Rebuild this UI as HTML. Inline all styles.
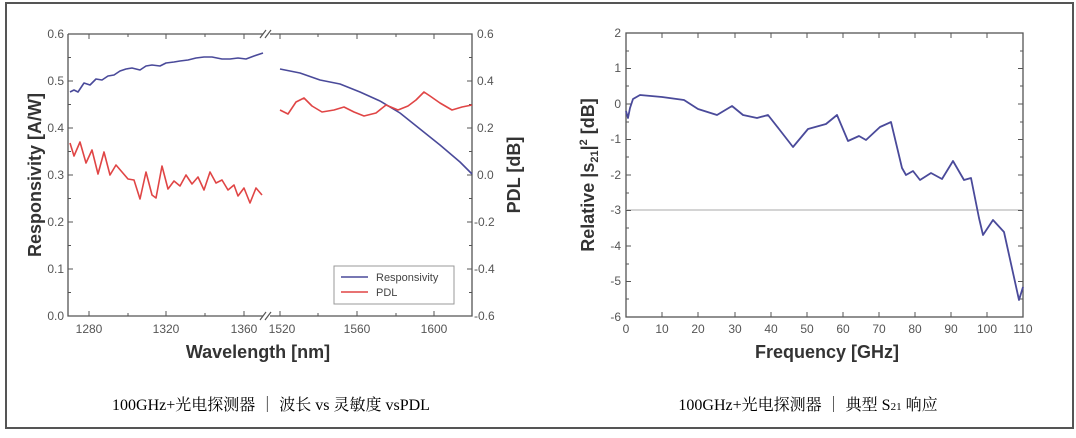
<!DOCTYPE html>
<html><head><meta charset="utf-8"><style>
body{margin:0;background:#fff;}
svg text{font-family:"Liberation Sans",sans-serif;}
</style></head><body>
<svg width="1076" height="433" viewBox="0 0 1076 433" xmlns="http://www.w3.org/2000/svg">
<rect x="0" y="0" width="1076" height="433" fill="#fff"/>
<rect x="6" y="3" width="1067" height="425" fill="none" stroke="#555" stroke-width="2"/>
<!-- LEFT CHART -->
<g stroke="#555" stroke-width="1.3" fill="none">
<path d="M68,34 V316 H263 M270,316 H472 V34 H270 M263,34 H68"/>
</g>
<g stroke="#555" stroke-width="1.2">
<line x1="260" y1="38" x2="266" y2="30"/><line x1="265" y1="38" x2="271" y2="30"/>
<line x1="260" y1="320" x2="266" y2="312"/><line x1="265" y1="320" x2="271" y2="312"/>
</g>
<g stroke="#555" stroke-width="1">
<path d="M68,34h5M68,57.5h3M68,81h5M68,104.5h3M68,128h5M68,151.5h3M68,175h5M68,198.5h3M68,222h5M68,245.5h3M68,269h5M68,292.5h3"/>
<path d="M472,34h-5M472,57.5h-3M472,81h-5M472,104.5h-3M472,128h-5M472,151.5h-3M472,175h-5M472,198.5h-3M472,222h-5M472,245.5h-3M472,269h-5M472,292.5h-3"/>
<path d="M89,316v-5M166,316v-5M244,316v-5M128,316v-3M205,316v-3M280,316v-5M357,316v-5M434,316v-5M318,316v-3M396,316v-3"/>
<path d="M89,34v5M166,34v5M244,34v5M128,34v3M205,34v3M280,34v5M357,34v5M434,34v5M318,34v3M396,34v3"/>
</g>
<g font-size="12" fill="#555" text-anchor="end">
<text x="64" y="38">0.6</text><text x="64" y="85">0.5</text><text x="64" y="132">0.4</text><text x="64" y="179">0.3</text><text x="64" y="226">0.2</text><text x="64" y="273">0.1</text><text x="64" y="320">0.0</text>
</g>
<g font-size="12" fill="#555">
<text x="477" y="38">0.6</text><text x="477" y="85">0.4</text><text x="477" y="132">0.2</text><text x="477" y="179">0.0</text><text x="474" y="226">-0.2</text><text x="474" y="273">-0.4</text><text x="474" y="320">-0.6</text>
</g>
<g font-size="12" fill="#555" text-anchor="middle">
<text x="89" y="333">1280</text><text x="166" y="333">1320</text><text x="244" y="333">1360</text><text x="282" y="333">1520</text><text x="357" y="333">1560</text><text x="434" y="333">1600</text>
</g>
<text x="258" y="358" font-size="18" font-weight="bold" fill="#333" text-anchor="middle">Wavelength  [nm]</text>
<text transform="translate(41,175) rotate(-90)" font-size="18" font-weight="bold" fill="#333" text-anchor="middle">Responsivity  [A/W]</text>
<text transform="translate(520,175) rotate(-90)" font-size="18" font-weight="bold" fill="#333" text-anchor="middle">PDL [dB]</text>
<g fill="none" stroke-width="1.6" stroke-linejoin="round">
<polyline stroke="#4a4a9a" points="70,92 74,90 78,92 84,83 90,85 96,79 102,80 108,76 114,75 120,71 126,69 132,68 140,70 146,66 152,65 160,66 166,63 174,62 180,61 188,60 196,58 204,57 212,57 222,59 230,59 238,58 246,59 254,56 263,53"/>
<polyline stroke="#4a4a9a" points="280,69 300,73 320,80 340,84 360,92 380,101 400,113 420,129 440,145 460,162 472,174"/>
<polyline stroke="#e04545" points="70,143 74,156 80,142 86,163 92,150 98,174 104,152 110,175 116,165 122,172 128,179 134,180 140,199 146,172 152,195 156,198 162,166 168,189 174,181 180,186 186,175 192,184 198,177 204,190 210,172 216,183 222,180 228,190 234,185 238,196 244,188 250,203 256,188 262,195"/>
<polyline stroke="#e04545" points="280,110 288,114 296,102 304,98 312,106 322,112 334,110 344,107 354,112 364,116 376,113 386,105 398,110 408,106 416,100 424,92 430,96 440,103 452,110 462,107 472,105"/>
</g>
<rect x="334" y="266" width="120" height="38" fill="#fff" stroke="#999" stroke-width="1"/>
<line x1="341" y1="277" x2="368" y2="277" stroke="#4a4a9a" stroke-width="1.6"/>
<line x1="341" y1="292" x2="368" y2="292" stroke="#e04545" stroke-width="1.6"/>
<text x="376" y="281" font-size="11" fill="#444">Responsivity</text>
<text x="376" y="296" font-size="11" fill="#444">PDL</text>
<text x="271" y="410" font-size="16" fill="#000" text-anchor="middle" style="font-family:'Liberation Serif','Noto Serif CJK SC',serif">100GHz+光电探测器 ｜ 波长 vs 灵敏度 vsPDL</text>
<!-- RIGHT CHART -->
<rect x="626" y="33" width="397" height="284" fill="none" stroke="#555" stroke-width="1.3"/>
<line x1="626" x2="1023" y1="210" y2="210" stroke="#aaa" stroke-width="1"/>
<g stroke="#555" stroke-width="1">
<path d="M626,33h5M626,68.5h5M626,104h5M626,139.5h5M626,175h5M626,210.5h5M626,246h5M626,281.5h5M626,51h3M626,86h3M626,122h3M626,157h3M626,193h3M626,228h3M626,264h3M626,299h3"/>
<path d="M1023,33h-5M1023,68.5h-5M1023,104h-5M1023,139.5h-5M1023,175h-5M1023,210.5h-5M1023,246h-5M1023,281.5h-5M1023,51h-3M1023,86h-3M1023,122h-3M1023,157h-3M1023,193h-3M1023,228h-3M1023,264h-3M1023,299h-3"/>
<path d="M662,317v-5M698,317v-5M735,317v-5M771,317v-5M807,317v-5M843,317v-5M879,317v-5M915,317v-5M951,317v-5M987,317v-5M662,33v5M698,33v5M735,33v5M771,33v5M807,33v5M843,33v5M879,33v5M915,33v5M951,33v5M987,33v5"/>
</g>
<g font-size="12" fill="#555" text-anchor="end">
<text x="621" y="37">2</text><text x="621" y="72">1</text><text x="621" y="108">0</text><text x="621" y="143">-1</text><text x="621" y="179">-2</text><text x="621" y="214">-3</text><text x="621" y="250">-4</text><text x="621" y="285">-5</text><text x="621" y="321">-6</text>
</g>
<g font-size="12" fill="#555" text-anchor="middle">
<text x="626" y="333">0</text><text x="662" y="333">10</text><text x="698" y="333">20</text><text x="735" y="333">30</text><text x="771" y="333">40</text><text x="807" y="333">50</text><text x="843" y="333">60</text><text x="879" y="333">70</text><text x="915" y="333">80</text><text x="951" y="333">90</text><text x="987" y="333">100</text><text x="1023" y="333">110</text>
</g>
<text x="827" y="358" font-size="18" font-weight="bold" fill="#333" text-anchor="middle">Frequency  [GHz]</text>
<text transform="translate(594,175) rotate(-90)" font-size="18" font-weight="bold" fill="#333" text-anchor="middle">Relative |s<tspan font-size="11" dy="4">21</tspan><tspan dy="-4">|</tspan><tspan font-size="11" dy="-7">2</tspan><tspan dy="7">  [dB]</tspan></text>
<polyline fill="none" stroke="#4a4a9a" stroke-width="1.8" stroke-linejoin="round" points="626,111 628,118 630,108 633,99 640,95 662,97 684,100 698,109 717,115 732,106 743,115 757,118 768,115 779,129 793,147 808,129 826,124 837,115 848,141 859,136 866,140 880,127 891,122 902,168 906,175 913,171 920,180 931,173 942,179 953,161 964,180 971,178 979,218 983,235 993,220 1004,232 1019,300 1023,287"/>
<text x="808" y="410" font-size="16" fill="#000" text-anchor="middle" style="font-family:'Liberation Serif','Noto Serif CJK SC',serif">100GHz+光电探测器 ｜ 典型 S<tspan font-size="11">21</tspan> 响应</text>
</svg>
</body></html>
